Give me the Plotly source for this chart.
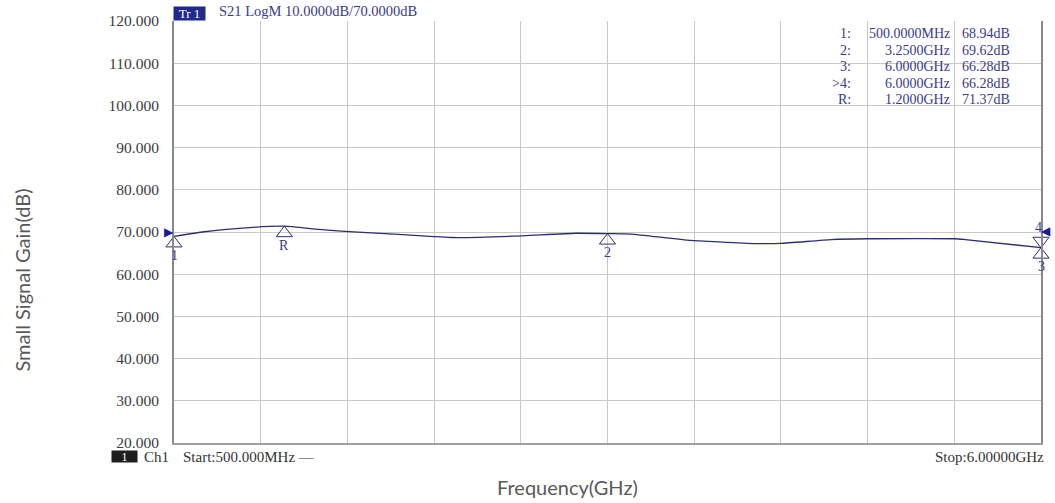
import plotly.graph_objects as go
import numpy as np

# ---------------- data ----------------
freq_ghz = [0.5, 0.68, 1.0, 1.2, 1.42, 1.61, 1.95, 2.27, 2.65, 3.05, 3.25, 3.4,
            3.78, 4.21, 4.35, 4.67, 4.9, 5.46, 5.52, 6.0]
gain_db = [68.94, 70.0, 71.1, 71.37, 70.6, 70.1, 69.4, 68.7, 69.0, 69.7, 69.62, 69.5,
           68.0, 67.25, 67.3, 68.2, 68.4, 68.4, 68.2, 66.28]

marker_names = ["1", "2", "3", "4", "R"]
marker_freq_ghz = [0.5, 3.25, 6.0, 6.0, 1.2]
marker_gain_db = [68.94, 69.62, 66.28, 66.28, 71.37]
marker_inverted = [False, False, False, True, False]
active_marker = "4"

y_ticks = [20, 30, 40, 50, 60, 70, 80, 90, 100, 110, 120]
start_ghz = 0.5
stop_ghz = 6.0
ref_level_db = 70.0
scale_db = 10.0
x_divisions = 10
header_trace = "Tr 1"
header_meas = "S21 LogM"

# ---------------- layout constants ----------------
W, H = 1055, 503
ML, MR, MT, MB = 174, 12, 18, 60
PW, PH = W - ML - MR, H - MT - MB
ymin, ymax = y_ticks[0], y_ticks[-1]
db_per_px = (ymax - ymin) / PH

NAVY = "#2e2e72"
TEXT_NAVY = "#3a3a8c"
ARROW = "#1a1a9a"
GRID = "#c8c8c8"
SERIF = "Liberation Serif"
SANS = "Lato"


def px_x(px):
    return (px - ML) / PW


def px_y(py):
    return (H - MB - py) / PH


fig = go.Figure()

# measured trace
fig.add_trace(go.Scatter(
    x=freq_ghz, y=gain_db, mode="lines",
    line=dict(color=NAVY, width=1.3, shape="spline", smoothing=0.5),
    hoverinfo="skip", showlegend=False,
))

# marker triangles (apex sitting on the trace)
msize = 14
r = msize / 2
up_x, up_y, dn_x, dn_y = [], [], [], []
for f, v, inv in zip(marker_freq_ghz, marker_gain_db, marker_inverted):
    if inv:
        dn_x.append(f)
        dn_y.append(v + r * db_per_px)
    else:
        up_x.append(f)
        up_y.append(v - r * db_per_px)

fig.add_trace(go.Scatter(
    x=up_x, y=up_y, mode="markers", cliponaxis=False,
    marker=dict(symbol="triangle-up-open", size=msize, color=NAVY, line=dict(width=1, color=NAVY)),
    hoverinfo="skip", showlegend=False,
))
fig.add_trace(go.Scatter(
    x=dn_x, y=dn_y, mode="markers", cliponaxis=False,
    marker=dict(symbol="triangle-down-open", size=msize, color=NAVY, line=dict(width=1, color=NAVY)),
    hoverinfo="skip", showlegend=False,
))

annotations = []

# marker labels
for name, f, v, inv in zip(marker_names, marker_freq_ghz, marker_gain_db, marker_inverted):
    annotations.append(dict(
        x=f, y=v, xref="x", yref="y", text=name, showarrow=False,
        yshift=(20 if inv else -19), xshift=(-3 if inv else 0),
        font=dict(family=SERIF, size=14, color=TEXT_NAVY),
    ))

# reference-level arrows (outside the grid, at the reference level)
annotations.append(dict(
    x=start_ghz, y=ref_level_db, xref="x", yref="y", text="\u25B6", showarrow=False,
    xanchor="right", yanchor="middle", xshift=2, font=dict(family="DejaVu Sans", size=12, color=ARROW),
))
annotations.append(dict(
    x=stop_ghz, y=ref_level_db, xref="x", yref="y", text="\u25C0", showarrow=False,
    xanchor="left", yanchor="middle", xshift=-2, yshift=1, font=dict(family="DejaVu Sans", size=12, color=ARROW),
))

# marker table
row_y0, row_dy = 31, 16.5
for i, (name, f, v) in enumerate(zip(marker_names, marker_freq_ghz, marker_gain_db)):
    py = row_y0 + i * row_dy
    label = ("&gt;" if name == active_marker else "") + name + ":"
    ftxt = f"{f * 1000:.4f}MHz" if f < 1 else f"{f:.4f}GHz"
    vtxt = f"{v:.2f}dB"
    for txt, xp, anchor in [(label, 855, "right"), (ftxt, 954, "right"), (vtxt, 962, "left")]:
        annotations.append(dict(
            x=px_x(xp), y=px_y(py), xref="paper", yref="paper", text=txt, showarrow=False,
            xanchor=anchor, yanchor="middle", font=dict(family=SERIF, size=14, color=TEXT_NAVY),
        ))

# header
annotations.append(dict(
    x=px_x(173), y=1, xref="paper", yref="paper", text=header_trace, showarrow=False,
    xanchor="left", yanchor="bottom", bgcolor="#1f2a8f", borderpad=0, width=31, height=13,
    font=dict(family=SERIF, size=13, color="white"),
))
annotations.append(dict(
    x=px_x(217), y=1, xref="paper", yref="paper",
    text=f"{header_meas} {scale_db:.4f}dB/{ref_level_db:.4f}dB", showarrow=False,
    xanchor="left", yanchor="bottom", font=dict(family=SERIF, size=14.5, color=TEXT_NAVY),
))

# footer
annotations.append(dict(
    x=px_x(124.5), y=px_y(457), xref="paper", yref="paper", text="1", showarrow=False,
    xanchor="center", yanchor="middle", bgcolor="#1e1e1e", width=25, height=11, borderpad=0,
    font=dict(family=SERIF, size=12, color="white"),
))
annotations.append(dict(
    x=px_x(142), y=px_y(457), xref="paper", yref="paper", text="Ch1", showarrow=False,
    xanchor="left", yanchor="middle", font=dict(family=SERIF, size=15, color="#333333"),
))
annotations.append(dict(
    x=px_x(181), y=px_y(457), xref="paper", yref="paper",
    text=f"Start:{start_ghz * 1000:.3f}MHz \u2014", showarrow=False,
    xanchor="left", yanchor="middle", font=dict(family=SERIF, size=15, color="#333333"),
))
annotations.append(dict(
    x=px_x(1048), y=px_y(457), xref="paper", yref="paper",
    text=f"Stop:{stop_ghz:.5f}GHz", showarrow=False,
    xanchor="right", yanchor="middle", font=dict(family=SERIF, size=15, color="#333333"),
))

# axis titles
annotations.append(dict(
    x=px_x(22), y=px_y(279), xref="paper", yref="paper", text="Small Signal Gain(dB)",
    showarrow=False, textangle=-90, xanchor="center", yanchor="middle",
    font=dict(family=SANS, size=20, color="#595959"),
))
annotations.append(dict(
    x=px_x(568), y=px_y(487), xref="paper", yref="paper", text="Frequency(GHz)",
    showarrow=False, xanchor="center", yanchor="middle",
    font=dict(family=SANS, size=20, color="#595959"),
))

x_grid = list(np.linspace(start_ghz, stop_ghz, x_divisions + 1))

fig.update_layout(
    width=W, height=H,
    margin=dict(l=ML, r=MR, t=MT, b=MB, pad=0),
    paper_bgcolor="white", plot_bgcolor="white",
    showlegend=False,
    annotations=annotations,
    xaxis=dict(
        range=[start_ghz, stop_ghz], tickvals=x_grid, showticklabels=False,
        showgrid=True, gridcolor=GRID, gridwidth=1, zeroline=False,
        showline=True, linecolor="#a0a0a0", linewidth=2, ticks="",
    ),
    yaxis=dict(
        range=[ymin, ymax], tickvals=y_ticks, tickformat=".3f",
        showgrid=True, gridcolor=GRID, gridwidth=1, zeroline=False,
        showline=True, linecolor="#8a8a8a", linewidth=2, mirror=True, ticks="",
        ticklabelstandoff=10,
        tickfont=dict(family=SERIF, size=15.5, color="#3c3c3c"),
    ),
)

fig.write_html(
    "out.html",
    config={"displayModeBar": False},
    post_script="document.body.style.margin='0';document.body.style.overflow='hidden';",
)
